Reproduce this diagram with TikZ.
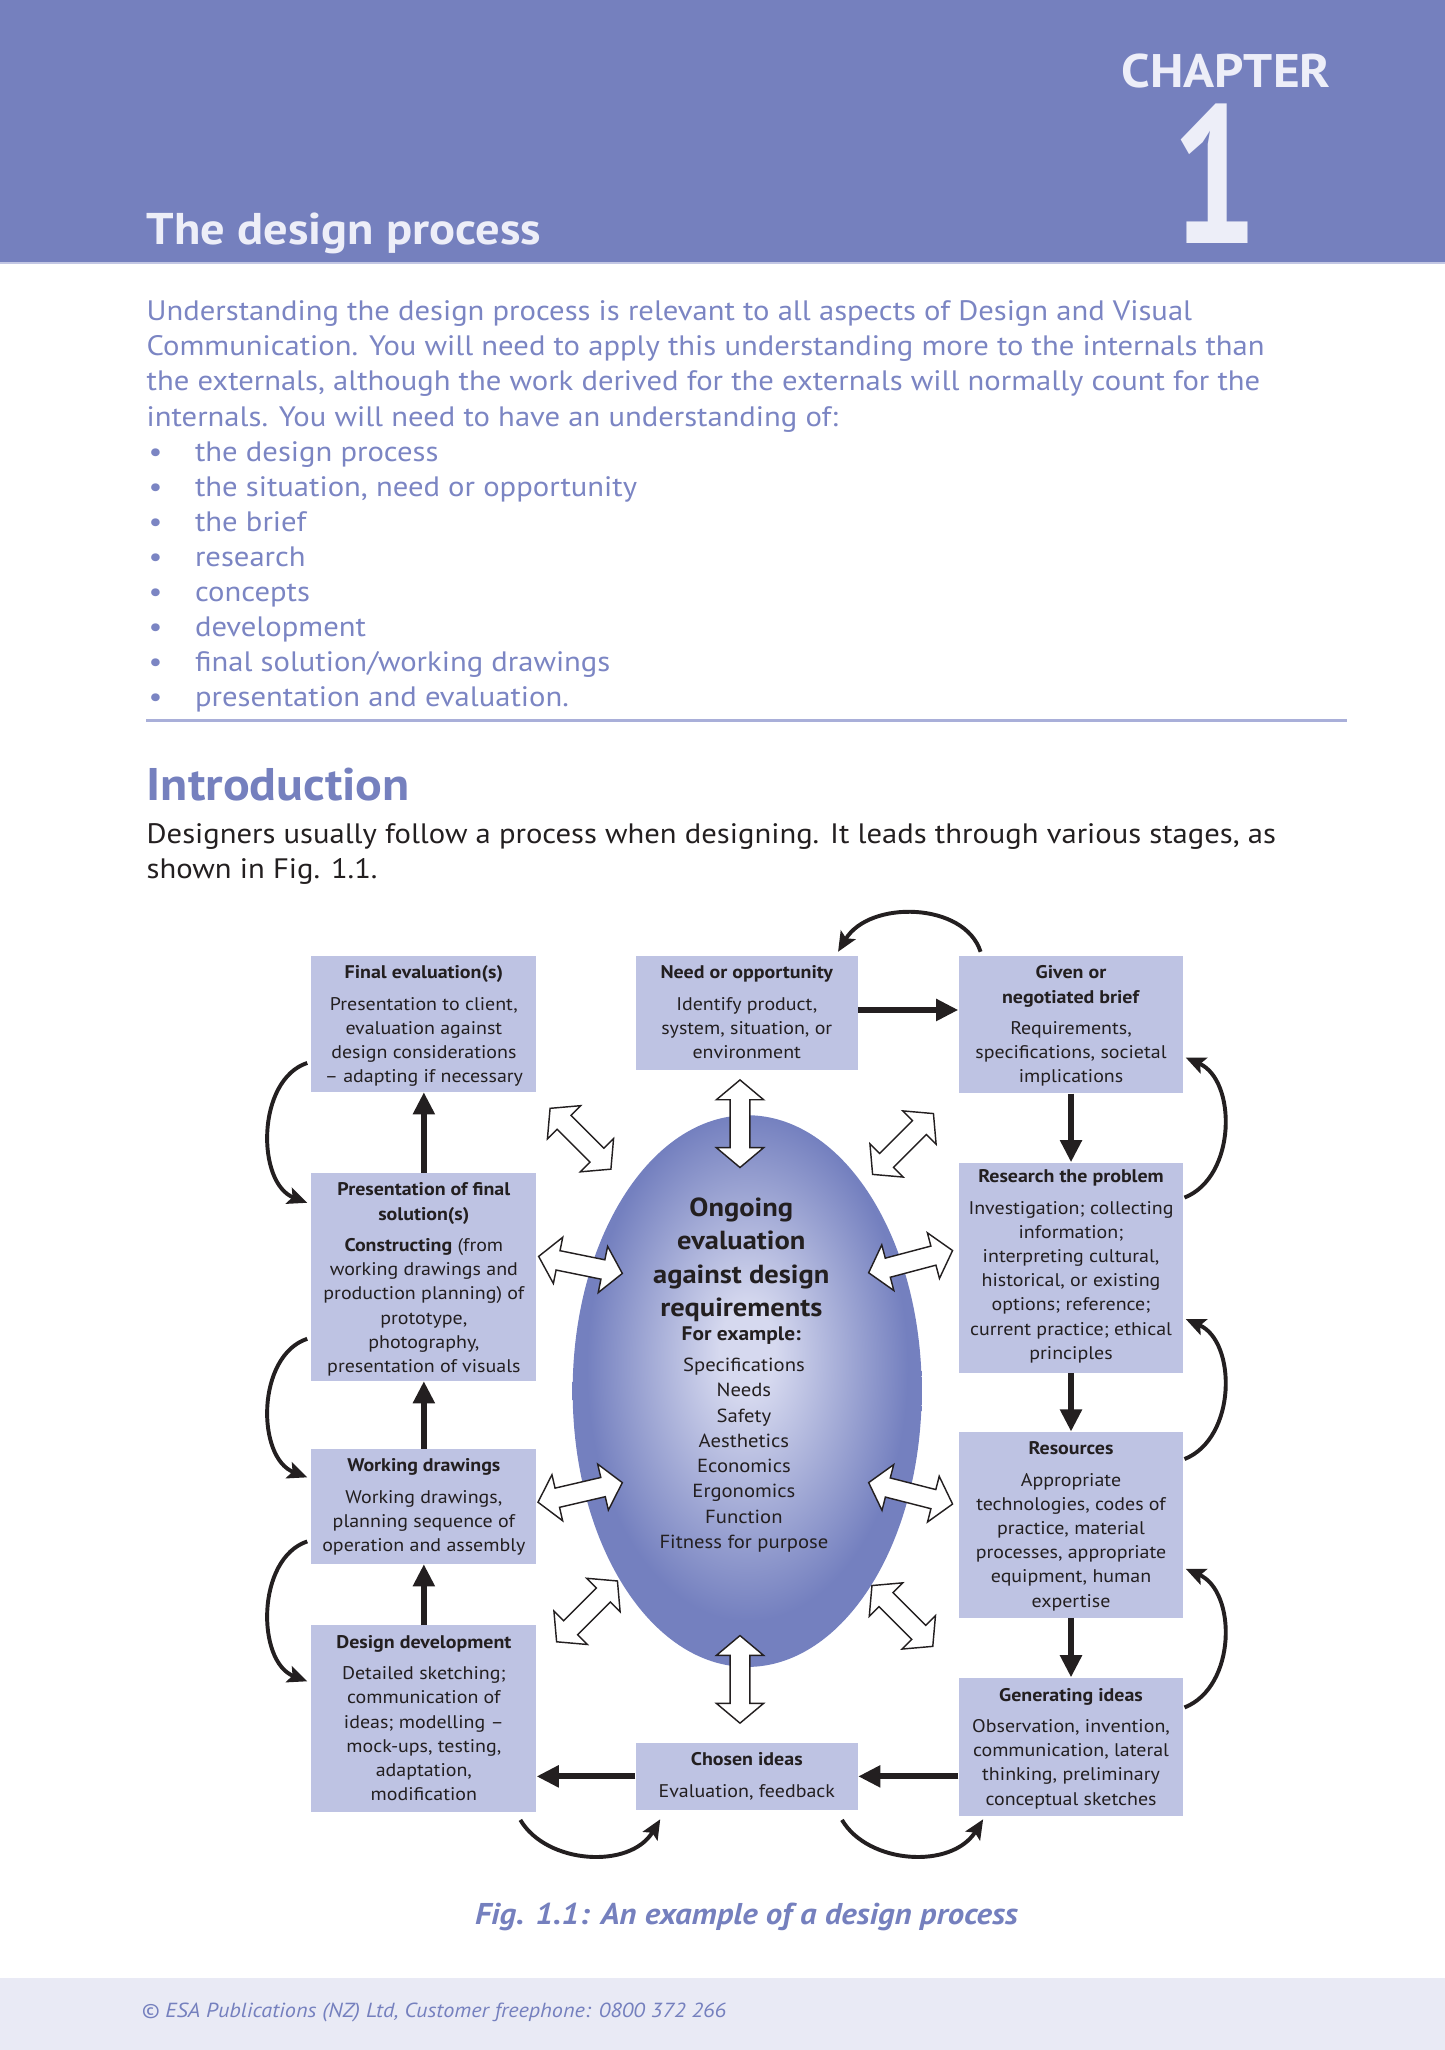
\documentclass[tikz,border=0pt]{standalone}
\usepackage{fontspec}
\setmainfont{PT Sans}[FakeStretch=1.09]
\newfontfamily\numfont{PT Sans}[FakeStretch=0.78]
\usetikzlibrary{arrows.meta,shapes.geometric,shapes.arrows,calc}
\definecolor{hdr}{HTML}{7580BE}
\definecolor{hdrtext}{HTML}{EDEEF8}
\definecolor{blu}{HTML}{7580BE}
\definecolor{introblue}{HTML}{7B85C3}
\definecolor{boxfill}{HTML}{BEC3E3}
\definecolor{rulec}{HTML}{A9AFD9}
\definecolor{foot}{HTML}{E9EAF5}
\definecolor{ink}{HTML}{231F20}
\definecolor{ellout}{HTML}{7480BF}
\definecolor{ellin}{HTML}{D6D9EF}
\pgfdeclareradialshading{ellshade}{\pgfpoint{0bp}{4bp}}{color(0bp)=(ellin); color(4bp)=(ellin); color(23bp)=(ellout); color(25bp)=(ellout); color(50bp)=(ellout)}
\newcommand\hollowlink[3]{%
  \path let \p1=(#2), \p2=(#3), \n1={atan2(\y2-\y1,\x2-\x1)}, \n2={veclen(\x2-\x1,\y2-\y1)} in
    node[hollow, minimum height=\n2, rotate=\n1] (#1) at ($(#2)!0.5!(#3)$) {};}
\begin{document}
\begin{tikzpicture}[x=1pt,y=-1pt,
  stagebox/.style={rectangle, fill=boxfill, draw=none, inner sep=0, anchor=north west},
  stagetext/.style={anchor=north, inner sep=0, align=center, text=ink, font=\fontsize{14}{18.5}\selectfont},
  flow/.style={line width=4.5pt, draw=ink, -{Triangle[length=17pt,width=16pt]}},
  loop/.style={line width=3pt, draw=ink, -{Stealth[length=15pt,width=13pt,inset=3pt]}},
  hollow/.style={double arrow, draw=ink, fill=white, line width=1.1pt, inner sep=7pt, double arrow head extend=10.5pt, double arrow tip angle=100},
  introline/.style={anchor=base west, inner sep=0, text=introblue, font=\fontsize{21.5}{26.8}\selectfont},
  bodyline/.style={anchor=base west, inner sep=0, text=ink, font=\fontsize{21.5}{26.8}\selectfont},
]
\useasboundingbox (0,0) rectangle (1105,1568);
% header band
\fill[hdr] (0,0) rectangle (1105,201);
\draw[line width=1.5pt, draw=rulec!70] (0,201.5) -- (1105,201.5);
\node[anchor=base west, inner sep=0, text=hdrtext, font=\fontsize{34}{40}\selectfont\bfseries] (title) at (112,187) {The design process};
\node[anchor=base east, inner sep=0, text=hdrtext, font=\fontsize{36}{42}\selectfont\bfseries] (chap) at (1018,67) {CHAPTER};
\node[anchor=base, inner sep=0, text=hdrtext, font=\fontsize{150}{150}\numfont\bfseries] (chapnum) at (929,186) {1};
% intro
\node[introline] (i1) at (112,245) {Understanding the design process is relevant to all aspects of Design and Visual};
\node[introline] (i2) at (112,272) {Communication. You will need to apply this understanding more to the internals than};
\node[introline] (i3) at (112,299) {the externals, although the work derived for the externals will normally count for the};
\node[introline] (i4) at (112,326) {internals. You will need to have an understanding of:};
\foreach \t [count=\i] in {{the design process},{the situation, need or opportunity},{the brief},{research},{concepts},{development},{final solution/working drawings},{presentation and evaluation.}}{
  \node[introline] (b\i) at (149,326+26.8*\i) {\t};
  \node[introline, anchor=base] (bd\i) at (119,326+26.8*\i) {•};
}
\draw[line width=2pt, draw=rulec] (112,551) -- (1030,551);
\node[anchor=base west, inner sep=0, text=blu, font=\fontsize{35}{40}\selectfont\bfseries] (intro) at (112,612) {Introduction};
\node[bodyline] (d1) at (112,645) {Designers usually follow a process when designing. It leads through various stages, as};
\node[bodyline] (d2) at (112,672) {shown in Fig. 1.1.};
% ellipse
\node[ellipse, minimum width=267pt, minimum height=422pt, inner sep=0, shade, shading=ellshade] (ell) at (571.5,1064) {};
\node[anchor=north, inner sep=0, align=center, text=ink, font=\fontsize{20}{25.7}\selectfont\bfseries] (ell-t) at (567,915) {\rule{0pt}{15pt}Ongoing\\evaluation\\against design\\requirements};
\node[anchor=base, inner sep=0, text=ink, font=\fontsize{15}{18}\selectfont\bfseries] (ell-fe) at (567,1025) {For example:};
\node[anchor=north, inner sep=0, align=center, text=ink, font=\fontsize{14.5}{19.3}\selectfont] (ell-l) at (569,1038) {\rule{0pt}{11pt}Specifications\\Needs\\Safety\\Aesthetics\\Economics\\Ergonomics\\Function\\Fitness for purpose};
% boxes
\node[stagebox, minimum width=172pt, minimum height=104pt] (fe) at (238,731) {};
\node[stagebox, minimum width=170pt, minimum height=87pt] (need) at (486,731) {};
\node[stagebox, minimum width=172pt, minimum height=105pt] (brief) at (733,731) {};
\node[stagebox, minimum width=172pt, minimum height=159pt] (pres) at (238,897) {};
\node[stagebox, minimum width=172pt, minimum height=161pt] (res) at (733,889) {};
\node[stagebox, minimum width=172pt, minimum height=88pt] (work) at (238,1108) {};
\node[stagebox, minimum width=172pt, minimum height=142pt] (resrc) at (733,1095) {};
\node[stagebox, minimum width=172pt, minimum height=143pt] (dev) at (238,1243) {};
\node[stagebox, minimum width=170pt, minimum height=51pt] (chosen) at (486,1333) {};
\node[stagebox, minimum width=172pt, minimum height=106pt] (gen) at (733,1283) {};
\node[stagetext] (fe-t) at ($(fe.north)+(0,6.5)$) {\rule{0pt}{11pt}\textbf{Final evaluation(s)}\\[5.5pt]Presentation to client,\\evaluation against\\design considerations\\– adapting if necessary};
\node[stagetext] (need-t) at ($(need.north)+(0,6.5)$) {\rule{0pt}{11pt}\textbf{Need or opportunity}\\[5.5pt]Identify product,\\system, situation, or\\environment};
\node[stagetext] (brief-t) at ($(brief.north)+(0,6.5)$) {\rule{0pt}{11pt}\textbf{Given or}\\\textbf{negotiated brief}\\[5.5pt]Requirements,\\specifications, societal\\implications};
\node[stagetext] (pres-t) at ($(pres.north)+(0,6.5)$) {\rule{0pt}{11pt}\textbf{Presentation of final}\\\textbf{solution(s)}\\[5.5pt]\textbf{Constructing} (from\\working drawings and\\production planning) of\\prototype,\\photography,\\presentation of visuals};
\node[stagetext] (res-t) at ($(res.north)+(0,4.5)$) {\rule{0pt}{11pt}\textbf{Research the problem}\\[5.5pt]Investigation; collecting\\information;\\interpreting cultural,\\historical, or existing\\options; reference;\\current practice; ethical\\principles};
\node[stagetext] (work-t) at ($(work.north)+(0,6.5)$) {\rule{0pt}{11pt}\textbf{Working drawings}\\[5.5pt]Working drawings,\\planning sequence of\\operation and assembly};
\node[stagetext] (resrc-t) at ($(resrc.north)+(0,6.5)$) {\rule{0pt}{11pt}\textbf{Resources}\\[5.5pt]Appropriate\\technologies, codes of\\practice, material\\processes, appropriate\\equipment, human\\expertise};
\node[stagetext] (dev-t) at ($(dev.north)+(0,6.5)$) {\rule{0pt}{11pt}\textbf{Design development}\\[5.5pt]Detailed sketching;\\communication of\\ideas; modelling –\\mock-ups, testing,\\adaptation,\\modification};
\node[stagetext] (chosen-t) at ($(chosen.north)+(0,6.5)$) {\rule{0pt}{11pt}\textbf{Chosen ideas}\\[5.5pt]Evaluation, feedback};
\node[stagetext] (gen-t) at ($(gen.north)+(0,7)$) {\rule{0pt}{11pt}\textbf{Generating ideas}\\[5.5pt]Observation, invention,\\communication, lateral\\thinking, preliminary\\conceptual sketches};
% main flow
\coordinate (nb) at ($(need.north east)+(0,41.5)$);
\draw[flow] (nb) -- (nb -| brief.west);
\draw[flow] (brief.south) -- (res.north);
\draw[flow] (res.south) -- (resrc.north);
\draw[flow] (resrc.south) -- (gen.north);
\draw[flow] (gen.west |- chosen.west) -- (chosen.east);
\draw[flow] (chosen.west) -- (chosen.west -| dev.east);
\draw[flow] (dev.north) -- (work.south);
\draw[flow] (work.north) -- (pres.south);
\draw[flow] (pres.north) -- (fe.south);
% loop arrows
\coordinate (t1) at (750,728); \coordinate (t2) at (641,728);
\draw[loop] (t1) .. controls (738,690) and (665,688) .. (t2);
\coordinate (r1a) at (906,916); \coordinate (r1b) at (907,809);
\draw[loop] (r1a) .. controls (946,900) and (946,826) .. (r1b);
\coordinate (r2a) at (906,1116); \coordinate (r2b) at (907,1009);
\draw[loop] (r2a) .. controls (946,1100) and (946,1026) .. (r2b);
\coordinate (r3a) at (906,1306); \coordinate (r3b) at (907,1200);
\draw[loop] (r3a) .. controls (946,1290) and (946,1217) .. (r3b);
\coordinate (l1a) at (235,813); \coordinate (l1b) at (235,920);
\draw[loop] (l1a) .. controls (196,826) and (196,905) .. (l1b);
\coordinate (l2a) at (235,1024); \coordinate (l2b) at (235,1130);
\draw[loop] (l2a) .. controls (196,1037) and (196,1115) .. (l2b);
\coordinate (l3a) at (235,1179); \coordinate (l3b) at (235,1286);
\draw[loop] (l3a) .. controls (196,1192) and (196,1271) .. (l3b);
\coordinate (u1a) at (398,1392); \coordinate (u1b) at (505,1391.5);
\draw[loop] (u1a) .. controls (418,1426) and (482,1430) .. (u1b);
\coordinate (u2a) at (644,1392); \coordinate (u2b) at (752,1391.5);
\draw[loop] (u2a) .. controls (664,1426) and (728,1430) .. (u2b);
% hollow double arrows
\coordinate (hTop-a) at (566,826); \coordinate (hTop-b) at (566,893);
\coordinate (hBot-a) at (566,1251); \coordinate (hBot-b) at (566,1318);
\coordinate (hTL-a) at (420.7,847.7); \coordinate (hTL-b) at (467.3,894.3);
\coordinate (hTR-a) at (714,851.7); \coordinate (hTR-b) at (667.4,898.3);
\coordinate (hLU-a) at (412,961); \coordinate (hLU-b) at (476,974);
\coordinate (hRU-a) at (664.4,973.5); \coordinate (hRU-b) at (728.6,956.5);
\coordinate (hLL-a) at (411.5,1149); \coordinate (hLL-b) at (476,1134);
\coordinate (hRL-a) at (664.4,1134); \coordinate (hRL-b) at (728.6,1150.4);
\coordinate (hBL-a) at (425.7,1255.8); \coordinate (hBL-b) at (472.3,1209.2);
\coordinate (hBR-a) at (666.9,1212.7); \coordinate (hBR-b) at (713.5,1259.3);
\hollowlink{hTop}{hTop-a}{hTop-b}
\hollowlink{hBot}{hBot-a}{hBot-b}
\hollowlink{hTL}{hTL-a}{hTL-b}
\hollowlink{hTR}{hTR-a}{hTR-b}
\hollowlink{hLU}{hLU-a}{hLU-b}
\hollowlink{hRU}{hRU-a}{hRU-b}
\hollowlink{hLL}{hLL-a}{hLL-b}
\hollowlink{hRL}{hRL-a}{hRL-b}
\hollowlink{hBL}{hBL-a}{hBL-b}
\hollowlink{hBR}{hBR-a}{hBR-b}
% caption and footer
\node[anchor=base, inner sep=0, text=blu, font=\fontsize{23}{27}\selectfont\bfseries\itshape] (cap) at (571,1472) {Fig. 1.1: An example of a design process};
\fill[foot] (0,1513) rectangle (1105,1568);
\node[anchor=base west, inner sep=0, text=blu, font=\fontsize{15.6}{20}\selectfont\itshape] (foot) at (108,1543) {© ESA Publications (NZ) Ltd, Customer freephone: 0800 372 266};
\end{tikzpicture}
\end{document}
